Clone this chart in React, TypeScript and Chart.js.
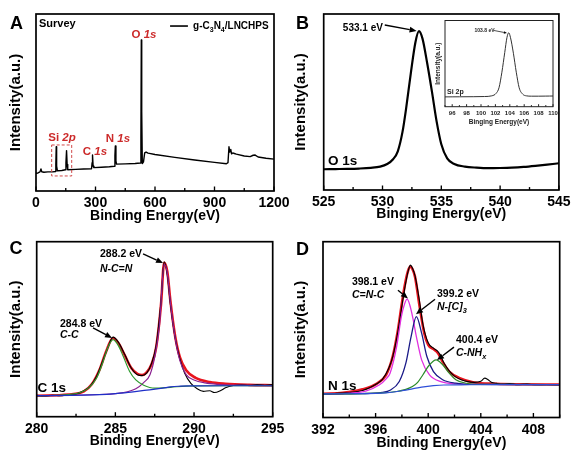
import React, { useEffect, useRef } from 'react';
import { Chart, registerables } from 'chart.js';

Chart.register(...registerables);

const FAMILY = '"Liberation Sans", Arial, Helvetica, sans-serif';
const RED_TXT = '#cc2a2a';

// ---------------- Panel A : survey ----------------
const A_ENERGY = [0, 10, 20, 25, 29, 40, 60, 85, 97, 100, 102, 104, 108, 130, 148, 151, 154, 157, 160, 200, 240, 280, 283, 285, 288, 292, 330, 370, 395, 398, 400, 403, 406, 450, 500, 526, 529, 531, 533, 536, 542, 548, 555, 565, 600, 700, 800, 900, 960, 968, 973, 977, 982, 986, 992, 1000, 1010, 1050, 1080, 1095, 1105, 1120, 1160, 1200];
const A_INTENSITY = [10.0, 10.2, 10.8, 12.5, 10.9, 10.6, 10.8, 10.8, 11.0, 15, 25.0, 14, 11.4, 11.6, 12.0, 16, 22.8, 15, 12.0, 12.2, 12.4, 12.6, 16, 20.3, 14, 13.2, 13.4, 13.7, 14.0, 20, 25.4, 17, 15.2, 15.3, 15.5, 15.8, 30, 85.3, 45, 15.5, 16.5, 21.5, 22, 21.4, 20.6, 19, 17.5, 16.2, 15.4, 16, 25, 22, 23.5, 21, 21.5, 21.2, 20.8, 19.8, 19.4, 20.2, 20.3, 19.2, 18.5, 18.0];
const A_TICK_LABELS = [0, 300, 600, 900, 1200];

// ---------------- Panel B : O 1s ----------------
const B_ENERGY = [525, 526, 527, 528, 529, 529.8, 530.4, 530.9, 531.3, 531.7, 532.0, 532.4, 532.8, 533.1, 533.4, 533.8, 534.2, 534.6, 535.0, 535.5, 536.1, 537, 538, 539, 540, 541, 542, 543, 544, 545];
const B_INTENSITY = [11.8, 11.9, 12.0, 12.2, 12.6, 13.3, 14.8, 17.5, 22, 33, 46, 66, 84, 90.3, 86, 72, 56, 39, 26, 18, 14.8, 13.3, 12.7, 12.4, 12.5, 12.7, 13.1, 13.7, 14.4, 15.2];
const B_TICK_LABELS = [525, 530, 535, 540, 545];

// inset : Si 2p
const SI_ENERGY = [95, 97, 99, 100.5, 101.5, 102.1, 102.5, 102.9, 103.3, 103.6, 103.85, 104.1, 104.5, 104.9, 105.3, 105.8, 106.3, 107, 108, 109, 110];
const SI_INTENSITY = [11.4, 11.5, 11.6, 11.8, 12.6, 15.5, 22, 40, 63, 80, 85.8, 80, 62, 40, 22, 14.5, 12.6, 12.2, 12.2, 12.3, 12.4];
const SI_TICK_LABELS = [96, 98, 100, 102, 104, 106, 108, 110];

// ---------------- Panel C : C 1s ----------------
const C_RAW_X = [280, 280.5, 281, 281.5, 282, 282.5, 283, 283.4, 283.8, 284.2, 284.5, 284.85, 285.2, 285.6, 286, 286.4, 286.7, 287, 287.3, 287.6, 287.9, 288.1, 288.3, 288.5, 288.8, 289.1, 289.4, 289.8, 290.2, 290.6, 291, 291.3, 291.7, 292, 292.5, 293, 293.5, 294, 294.5, 295];
const C_RAW_Y = [12.2, 11.8, 12.3, 12.0, 12.6, 13.0, 14.8, 17.5, 23, 32, 39, 45.5, 42.5, 35.5, 28, 24, 23.5, 25, 30.5, 41, 66, 88.5, 81, 64, 45, 33, 25, 19, 16, 14.5, 14.8, 13.8, 15.0, 16.5, 17.8, 18.3, 17.9, 18.4, 18.0, 18.3];
const C_FIT_X = [280, 282, 283, 283.5, 284, 284.4, 284.85, 285.2, 285.6, 286, 286.4, 286.7, 287, 287.3, 287.6, 287.9, 288.1, 288.3, 288.5, 288.8, 289.1, 289.5, 290.1, 291, 292, 293.5, 295];
const C_FIT_Y = [12.0, 12.7, 14.5, 18.5, 27, 37, 45, 42, 35, 28, 24.5, 23.8, 25.5, 30, 40, 64, 88, 83, 66, 46, 34, 26.5, 22.2, 19.8, 18.8, 18.2, 18];
const C_CC_X = [280, 281, 282, 282.8, 283.3, 283.8, 284.2, 284.5, 284.85, 285.2, 285.5, 285.9, 286.3, 286.8, 287.5, 288.5, 289.5, 292, 295];
const C_CC_Y = [12.0, 12.1, 12.6, 14.0, 16.5, 22.0, 31.0, 39.0, 44.0, 40.5, 34.5, 26.0, 21.0, 18.0, 16.3, 16.8, 17.5, 17.7, 17.7];
const C_NCN_X = [280, 284, 285.5, 286.3, 286.8, 287.2, 287.5, 287.8, 288.1, 288.3, 288.5, 288.8, 289.1, 289.5, 290, 290.7, 291.5, 293, 295];
const C_NCN_Y = [12.0, 12.7, 13.8, 16.0, 19.5, 24, 34, 52, 87, 82, 65, 45, 32, 24, 21, 19.3, 18.5, 18, 17.8];
const C_BASE_X = [280, 283, 284, 285, 286, 287, 288, 288.5, 289, 290, 292, 295];
const C_BASE_Y = [12.0, 12.3, 12.6, 13.2, 14.0, 15.2, 16.3, 17.0, 17.4, 17.6, 17.7, 17.7];
const C_TICK_LABELS = [280, 285, 290, 295];

// ---------------- Panel D : N 1s ----------------
const D_RAW_X = [392, 392.5, 393, 393.5, 394, 394.5, 395, 395.5, 396, 396.5, 397, 397.3, 397.7, 398.0, 398.3, 398.5, 398.65, 398.8, 399.0, 399.3, 399.6, 400.0, 400.4, 400.8, 401.2, 401.6, 402.0, 402.5, 403, 403.5, 404, 404.3, 404.5, 404.8, 405.2, 405.7, 406.2, 406.8, 407.5, 408.2, 409, 410];
const D_RAW_Y = [13.6, 13.2, 13.8, 13.9, 14.2, 14.6, 15.4, 16.8, 18.8, 21.5, 28.0, 34.5, 49.0, 63.5, 77.0, 84.0, 86.7, 85.0, 80.5, 68.0, 53.0, 42.5, 39.5, 37.0, 31.0, 26.5, 23.5, 21.5, 20.4, 20.0, 20.6, 22.4, 21.8, 20.0, 19.4, 19.0, 19.3, 18.7, 19.0, 18.6, 18.8, 18.6];
const D_FIT_X = [392, 393.5, 395, 396.1, 396.8, 397.3, 397.7, 397.96, 398.2, 398.45, 398.64, 398.8, 399.0, 399.35, 399.7, 400.0, 400.4, 400.75, 401.1, 401.6, 402.4, 403.4, 405.2, 407, 410];
const D_FIT_Y = [13.5, 14.0, 16.0, 19.3, 24.3, 34.7, 49.8, 63.0, 74.4, 83.0, 85.8, 84.5, 80.0, 63.0, 48.0, 41.3, 38.9, 36.6, 31.6, 26.1, 22.4, 20.1, 19.2, 18.9, 18.7];
const D_CNC_X = [392, 394, 395.3, 396.3, 396.8, 397.1, 397.6, 397.96, 398.2, 398.4, 398.6, 398.85, 399.1, 399.5, 400.1, 400.9, 402.1, 404, 410];
const D_CNC_Y = [13.4, 13.9, 15.2, 18.6, 22.0, 25.2, 40.3, 57.4, 64.5, 67.3, 64.0, 56.0, 46.0, 32.8, 24.3, 20.5, 19.1, 18.8, 18.7];
const D_NC3_X = [392, 395, 396.5, 397.1, 397.8, 398.3, 398.7, 399.1, 399.5, 399.9, 400.4, 401.1, 402.1, 403.4, 410];
const D_NC3_Y = [13.4, 13.6, 14.3, 15.5, 20.5, 30.9, 46.0, 57.4, 48.0, 34.7, 26.1, 21.5, 19.5, 18.8, 18.7];
const D_NHX_X = [392, 395, 396.5, 397.6, 398.3, 398.8, 399.2, 399.6, 400.1, 400.6, 401.1, 401.6, 402.1, 402.9, 404.2, 410];
const D_NHX_Y = [13.4, 13.6, 14.0, 14.8, 16.0, 17.6, 20.0, 24.3, 30.0, 32.8, 30.0, 25.2, 21.5, 19.5, 18.8, 18.7];
const D_BASE_X = [392, 394, 396, 396.8, 397.4, 398, 398.6, 399.2, 399.8, 400.4, 401.2, 402.5, 405, 410];
const D_BASE_Y = [13.4, 13.5, 13.7, 14.0, 14.5, 15.2, 16.0, 16.9, 17.6, 18.1, 18.5, 18.6, 18.7, 18.7];
const D_TICK_LABELS = [392, 396, 400, 404, 408];

// ---------------- helpers ----------------
type Part = { t: string; i?: boolean; sub?: boolean };

function rich(ctx: any, parts: Part[], x: number, y: number, size: number, color: string, align: string = 'left') {
  const fontFor = (p: Part) => `${p.i ? 'italic ' : ''}bold ${p.sub ? size * 0.7 : size}px ${FAMILY}`;
  let w = 0;
  parts.forEach((p) => { ctx.font = fontFor(p); w += ctx.measureText(p.t).width; });
  let cx = align === 'center' ? x - w / 2 : x;
  ctx.fillStyle = color;
  ctx.textAlign = 'left';
  ctx.textBaseline = 'alphabetic';
  parts.forEach((p) => {
    ctx.font = fontFor(p);
    ctx.fillText(p.t, cx, y + (p.sub ? size * 0.3 : 0));
    cx += ctx.measureText(p.t).width;
  });
}

function arrow(ctx: any, x1: number, y1: number, x2: number, y2: number, head = 6, w = 1.3) {
  const ang = Math.atan2(y2 - y1, x2 - x1);
  const bx = x2 - head * Math.cos(ang);
  const by = y2 - head * Math.sin(ang);
  ctx.strokeStyle = '#000';
  ctx.fillStyle = '#000';
  ctx.lineWidth = w;
  ctx.beginPath(); ctx.moveTo(x1, y1); ctx.lineTo(bx, by); ctx.stroke();
  const hw = head * 0.42;
  ctx.beginPath();
  ctx.moveTo(x2, y2);
  ctx.lineTo(bx + hw * Math.sin(ang), by - hw * Math.cos(ang));
  ctx.lineTo(bx - hw * Math.sin(ang), by + hw * Math.cos(ang));
  ctx.closePath(); ctx.fill();
}

function line(xs: number[], ys: number[], color: string, width: number, smooth = true) {
  return {
    data: xs.map((x, i) => ({ x, y: ys[i] })),
    borderColor: color,
    borderWidth: width,
    pointRadius: 0,
    fill: false,
    tension: 0,
    cubicInterpolationMode: smooth ? 'monotone' : 'default',
    borderJoinStyle: 'round',
    borderCapStyle: 'round',
  };
}

function letter(ctx: any, t: string, x: number, y: number) {
  ctx.font = `bold 18px ${FAMILY}`;
  ctx.fillStyle = '#000';
  ctx.textAlign = 'left';
  ctx.textBaseline = 'alphabetic';
  ctx.fillText(t, x, y);
}

type Opts = {
  left: number; top: number; width: number; height: number;
  xMin: number; xMax: number; step: number; labels: number[];
  xTitle: string; yTitle: string;
  pad: number[]; yWidth: number; xHeight: number;
  tickPad: number; titlePadBottom: number; yTitlePadTop: number;
  tickSize: number; titleSize: number; yTitleSize: number;
  frame: number; tickLen: number; ink: string;
  datasets: any[];
  draw: (ctx: any, X: (v: number) => number, Y: (v: number) => number) => void;
  page?: (ctx: any) => void;
};

function Panel({ o }: { o: Opts }) {
  const ref = useRef<HTMLCanvasElement>(null);
  useEffect(() => {
    const isLabel = (v: number) => o.labels.some((l) => Math.abs(l - v) < 1e-6);
    const deco = {
      id: 'deco',
      afterDraw(chart: any) {
        const { ctx, chartArea: a, scales } = chart;
        const xs = scales.x;
        const ys = scales.y;
        ctx.save();
        ctx.strokeStyle = o.ink;
        ctx.lineWidth = o.frame;
        ctx.strokeRect(a.left, a.top, a.right - a.left, a.bottom - a.top);
        ctx.lineWidth = Math.max(1, o.frame * 0.8);
        xs.ticks.forEach((t: any) => {
          const x = xs.getPixelForValue(t.value);
          const len = isLabel(t.value) ? o.tickLen : o.tickLen * 0.65;
          ctx.beginPath(); ctx.moveTo(x, a.bottom); ctx.lineTo(x, a.bottom - len); ctx.stroke();
        });
        o.draw(ctx, (v) => xs.getPixelForValue(v), (v) => ys.getPixelForValue(v));
        if (o.page) {
          ctx.save(); ctx.translate(-o.left, -o.top); o.page(ctx); ctx.restore();
        }
        ctx.restore();
      },
    };
    const chart = new Chart(ref.current as HTMLCanvasElement, {
      type: 'line',
      data: { datasets: o.datasets },
      options: {
        responsive: false,
        animation: false,
        devicePixelRatio: 1,
        events: [],
        layout: { padding: { left: o.pad[0], top: o.pad[1], right: o.pad[2], bottom: o.pad[3] } },
        plugins: { legend: { display: false }, tooltip: { enabled: false } },
        scales: {
          x: {
            type: 'linear',
            min: o.xMin,
            max: o.xMax,
            grid: { display: false, drawTicks: false },
            border: { display: false },
            ticks: {
              stepSize: o.step, autoSkip: false, maxRotation: 0, minRotation: 0,
              padding: o.tickPad, color: o.ink,
              font: { family: FAMILY, size: o.tickSize, weight: 'bold' },
              callback: (v: any) => (isLabel(Number(v)) ? String(v) : ''),
            },
            title: {
              display: true, text: o.xTitle, color: o.ink,
              font: { family: FAMILY, size: o.titleSize, weight: 'bold' },
              padding: { top: 0, bottom: o.titlePadBottom },
            },
            afterFit: (s: any) => { s.height = o.xHeight; },
          },
          y: {
            type: 'linear',
            min: 0,
            max: 100,
            grid: { display: false, drawTicks: false },
            border: { display: false },
            ticks: { display: false },
            title: {
              display: true, text: o.yTitle, color: o.ink,
              font: { family: FAMILY, size: o.yTitleSize, weight: 'bold' },
              padding: { top: o.yTitlePadTop, bottom: 0 },
            },
            afterFit: (s: any) => { s.width = o.yWidth; },
          },
        },
      } as any,
      plugins: [deco],
    } as any);
    return () => chart.destroy();
  }, []);
  return (
    <canvas
      ref={ref}
      width={o.width}
      height={o.height}
      style={{ position: 'absolute', left: o.left, top: o.top, width: o.width, height: o.height }}
    />
  );
}

const COMMON = {
  tickSize: 14, titleSize: 14, yTitleSize: 15, frame: 1.7, tickLen: 4.5, ink: '#000',
  yTitle: 'Intensity(a.u.)',
};

const PANEL_A: Opts = {
  ...COMMON,
  left: 0, top: 0, width: 294, height: 225,
  xMin: 0, xMax: 1200, step: 150, labels: A_TICK_LABELS,
  xTitle: 'Binding Energy(eV)',
  pad: [0, 14, 20, 0], yWidth: 36, xHeight: 34,
  tickPad: 3.4, titlePadBottom: 0.6, yTitlePadTop: 7.2,
  datasets: [line(A_ENERGY, A_INTENSITY, '#000', 1.4, false)],
  draw: (ctx, X, Y) => {
    rich(ctx, [{ t: 'Survey' }], X(15), Y(92.7), 11, '#000');
    ctx.strokeStyle = '#000'; ctx.lineWidth = 1.6;
    ctx.beginPath(); ctx.moveTo(X(676), Y(93.2)); ctx.lineTo(X(766), Y(93.2)); ctx.stroke();
    rich(ctx, [{ t: 'g-C' }, { t: '3', sub: true }, { t: 'N' }, { t: '4', sub: true }, { t: '/LNCHPS' }], X(792), Y(91.5), 10, '#000');
    rich(ctx, [{ t: 'O ' }, { t: '1s', i: true }], X(544.5), Y(86.4), 11.5, RED_TXT, 'center');
    rich(ctx, [{ t: 'Si ' }, { t: '2p', i: true }], X(131), Y(28.2), 11.5, RED_TXT, 'center');
    rich(ctx, [{ t: 'C ' }, { t: '1s', i: true }], X(297.5), Y(20.3), 11.5, RED_TXT, 'center');
    rich(ctx, [{ t: 'N ' }, { t: '1s', i: true }], X(413), Y(27.9), 11.5, RED_TXT, 'center');
    ctx.setLineDash([3, 2]);
    ctx.strokeStyle = '#d04a4a'; ctx.lineWidth = 1;
    ctx.strokeRect(X(79), Y(26), X(180) - X(79), Y(8.5) - Y(26));
    ctx.setLineDash([]);
  },
  page: (ctx) => letter(ctx, 'A', 10, 29),
};

const PANEL_B: Opts = {
  ...COMMON,
  left: 286, top: 0, width: 288, height: 225,
  xMin: 525, xMax: 545, step: 2.5, labels: B_TICK_LABELS,
  xTitle: 'Binging Energy(eV)',
  pad: [0, 14, 14, 0], yWidth: 37.7, xHeight: 35,
  tickPad: 3.4, titlePadBottom: 2.2, yTitlePadTop: 5.4,
  datasets: [line(B_ENERGY, B_INTENSITY, '#000', 2.2)],
  draw: (ctx, X, Y) => {
    rich(ctx, [{ t: '533.1 eV' }], X(528.33), Y(90.5), 10, '#000', 'center');
    arrow(ctx, X(530.19), Y(93.75), X(532.9), Y(90.4), 7, 1.4);
    rich(ctx, [{ t: 'O 1s' }], X(525.36), Y(14.2), 13.5, '#000');
  },
  page: (ctx) => letter(ctx, 'B', 296, 28.5),
};

const INSET: Opts = {
  left: 420, top: 15, width: 145, height: 115,
  xMin: 95, xMax: 110, step: 1, labels: SI_TICK_LABELS,
  xTitle: 'Binging Energy(eV)', yTitle: 'Intensity(a.u.)',
  pad: [0, 5.5, 12, 0], yWidth: 25, xHeight: 23.3,
  tickPad: 2.7, titlePadBottom: 4.2, yTitlePadTop: 14.8,
  tickSize: 6, titleSize: 6.5, yTitleSize: 6.5, frame: 1, tickLen: 2.5, ink: '#222',
  datasets: [line(SI_ENERGY, SI_INTENSITY, '#333', 1)],
  draw: (ctx, X, Y) => {
    rich(ctx, [{ t: '103.8 eV' }], X(100.49), Y(86.7), 5, '#222', 'center');
    arrow(ctx, X(101.8), Y(88.4), X(103.6), Y(85.5), 3, 0.7);
    rich(ctx, [{ t: 'Si 2p' }], X(95.28), Y(14.2), 7, '#222');
  },
};

const PANEL_C: Opts = {
  ...COMMON,
  left: 0, top: 225, width: 294, height: 225,
  xMin: 280, xMax: 295, step: 2.5, labels: C_TICK_LABELS,
  xTitle: 'Binding Energy(eV)',
  pad: [0, 16.7, 21.3, 0], yWidth: 36.7, xHeight: 33.3,
  tickPad: 4.0, titlePadBottom: 0.6, yTitlePadTop: 6.9,
  datasets: [
    line(C_BASE_X, C_BASE_Y, '#1f2fc8', 1.2),
    line(C_CC_X, C_CC_Y, '#2e9a2e', 1.2),
    line(C_NCN_X, C_NCN_Y, '#8a2090', 1.2),
    line(C_RAW_X, C_RAW_Y, '#000', 1.1),
    line(C_FIT_X, C_FIT_Y, '#e8141e', 2.6),
  ],
  draw: (ctx, X, Y) => {
    rich(ctx, [{ t: '288.2 eV' }], X(284.02), Y(91.4), 10.5, '#000');
    rich(ctx, [{ t: 'N-C=N', i: true }], X(284.02), Y(82.9), 10.5, '#000');
    arrow(ctx, X(286.76), Y(93), X(288.03), Y(87.8), 7, 1.4);
    rich(ctx, [{ t: '284.8 eV' }], X(281.48), Y(51.4), 10.5, '#000');
    rich(ctx, [{ t: 'C-C', i: true }], X(281.48), Y(44.8), 10.5, '#000');
    arrow(ctx, X(283.58), Y(50.7), X(284.79), Y(45), 7, 1.4);
    rich(ctx, [{ t: 'C 1s' }], X(280.05), Y(14.3), 13.5, '#000');
  },
  page: (ctx) => letter(ctx, 'C', 9.5, 254),
};

const PANEL_D: Opts = {
  ...COMMON,
  left: 286, top: 225, width: 288, height: 225,
  xMin: 392, xMax: 410, step: 2, labels: D_TICK_LABELS,
  xTitle: 'Binding Energy(eV)',
  pad: [0, 16.7, 14.3, 0], yWidth: 37, xHeight: 32.5,
  tickPad: 4.0, titlePadBottom: -1.4, yTitlePadTop: 5.4,
  datasets: [
    line(D_BASE_X, D_BASE_Y, '#2f4fd8', 1.2),
    line(D_NHX_X, D_NHX_Y, '#2a8a2a', 1.2),
    line(D_NC3_X, D_NC3_Y, '#1a1a88', 1.3),
    line(D_CNC_X, D_CNC_Y, '#e030e0', 1.3),
    line(D_RAW_X, D_RAW_Y, '#000', 1.1),
    line(D_FIT_X, D_FIT_Y, '#e8141e', 2.6),
  ],
  draw: (ctx, X, Y) => {
    rich(ctx, [{ t: '398.1 eV' }], X(394.2), Y(75.3), 10.5, '#000');
    rich(ctx, [{ t: 'C=N-C', i: true }], X(394.2), Y(68.1), 10.5, '#000');
    arrow(ctx, X(397.7), Y(72.4), X(398.46), Y(67.7), 7, 1.4);
    rich(ctx, [{ t: '399.2 eV' }], X(400.67), Y(68.6), 10.5, '#000');
    rich(ctx, [{ t: 'N-[C]', i: true }, { t: '3', i: true, sub: true }], X(400.67), Y(61.1), 10.5, '#000');
    arrow(ctx, X(400.52), Y(67.3), X(399.07), Y(58.8), 7, 1.4);
    rich(ctx, [{ t: '400.4 eV' }], X(402.11), Y(42.2), 10.5, '#000');
    rich(ctx, [{ t: 'C-NH', i: true }, { t: 'x', i: true, sub: true }], X(402.11), Y(34.9), 10.5, '#000');
    arrow(ctx, X(401.96), Y(40), X(400.67), Y(32.7), 7, 1.4);
    rich(ctx, [{ t: 'N 1s' }], X(392.38), Y(15.6), 13.5, '#000');
  },
  page: (ctx) => letter(ctx, 'D', 296, 254.5),
};

export default function App() {
  return (
    <div
      style={{
        position: 'absolute', left: 0, top: 0, width: 573, height: 450,
        overflow: 'hidden', background: '#fff',
      }}
    >
      <Panel o={PANEL_A} />
      <Panel o={PANEL_C} />
      <Panel o={PANEL_B} />
      <Panel o={PANEL_D} />
      <Panel o={INSET} />
    </div>
  );
}
